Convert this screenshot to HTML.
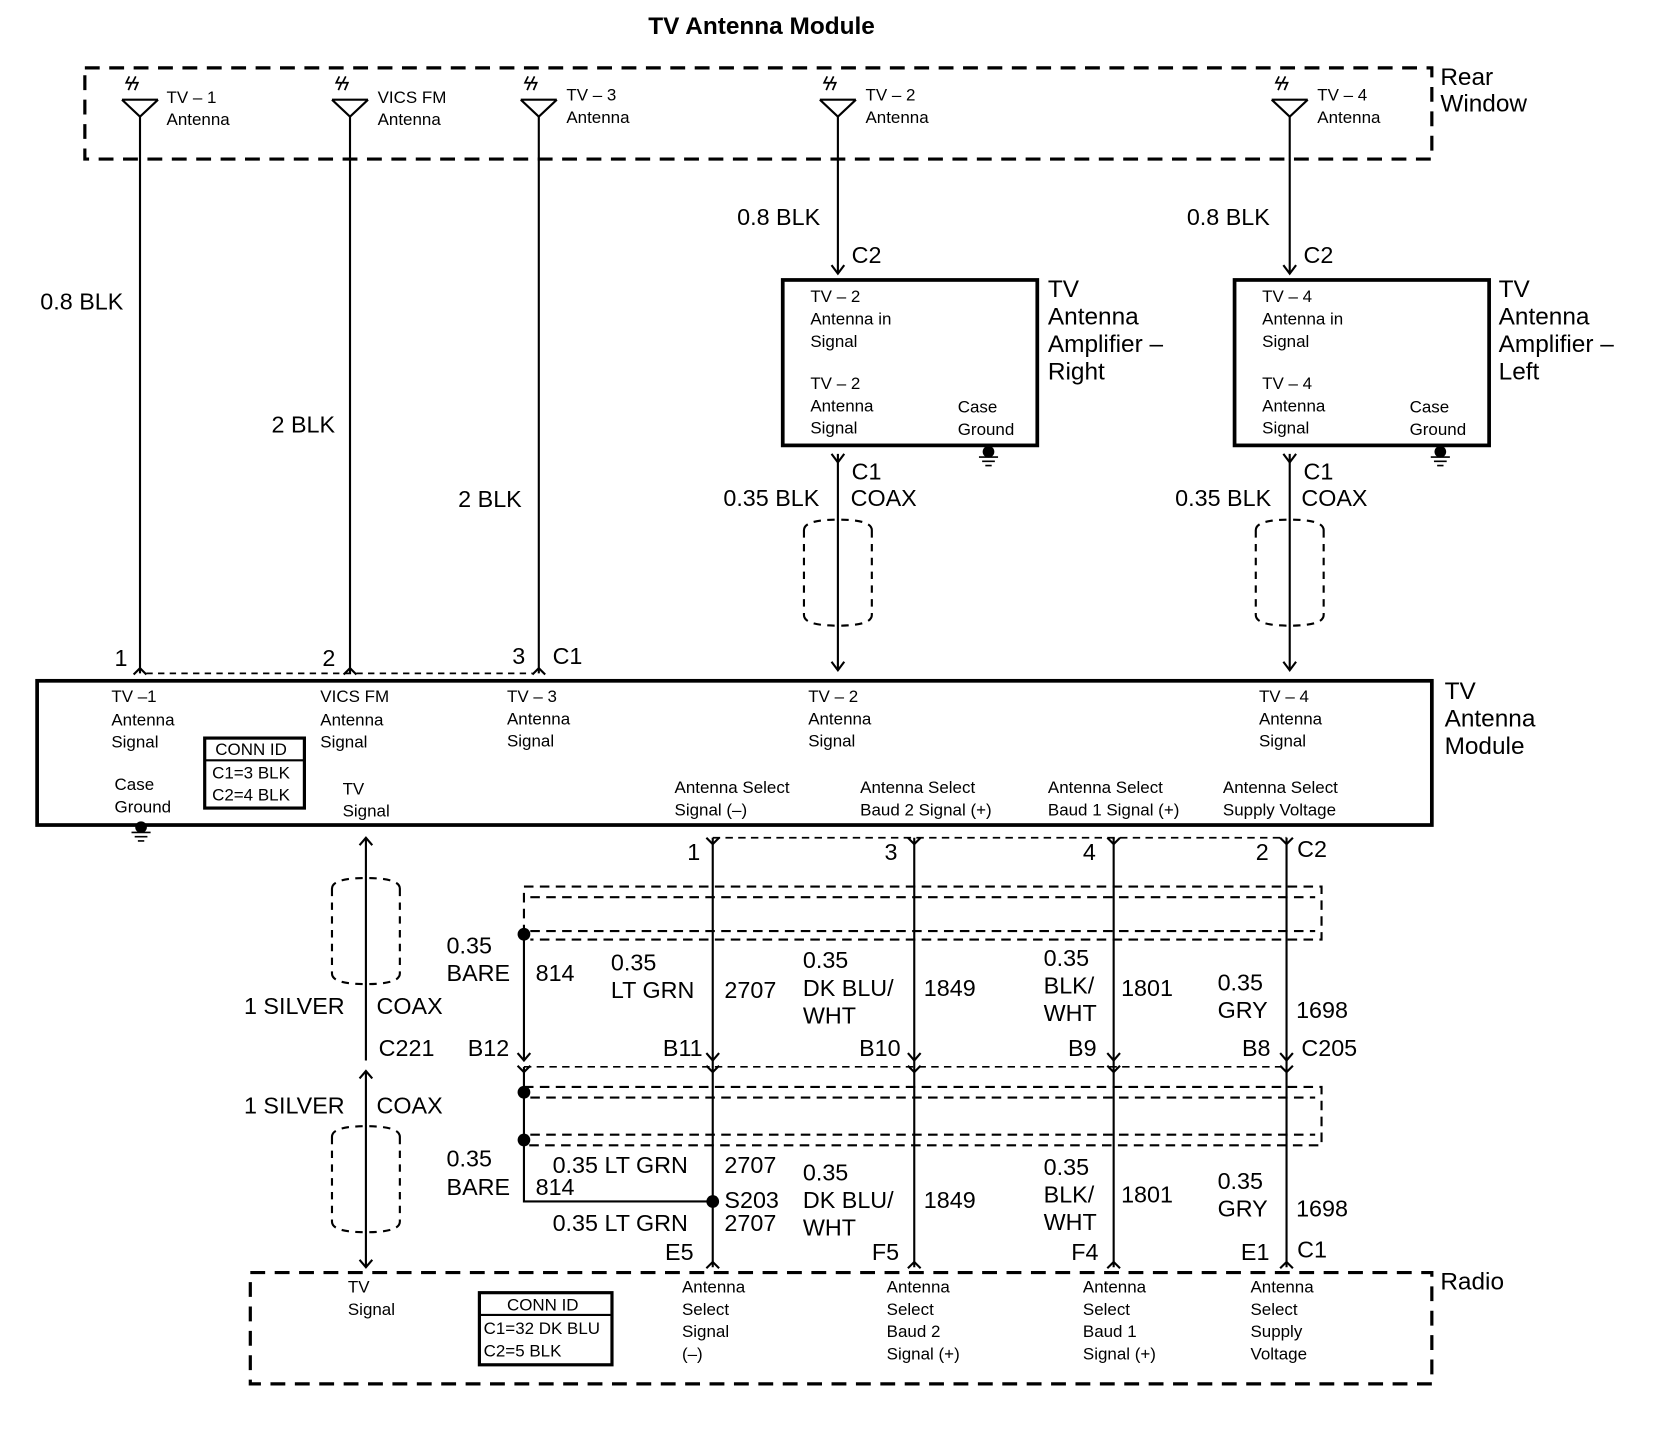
<!DOCTYPE html>
<html><head><meta charset="utf-8"><style>
html,body{margin:0;padding:0;background:#fff}
svg{display:block}
text{font-family:"Liberation Sans",Arial,sans-serif;fill:#000}
.s{font-size:16px}
.m{font-size:22px}
.l{font-size:23px}
</style></head><body>
<svg width="1662" height="1456" viewBox="0 0 1567 1373" preserveAspectRatio="none" xmlns="http://www.w3.org/2000/svg">
<defs>
<g id="ant">
<path d="M-17,94 H17 M-17,94 L0,110 L17,94" stroke="#000" stroke-width="2" fill="none"/>
<path d="M-10,72 l-3,6 l5,0 l-3,7 M-4,72 l-3,6 l5,0 l-3,7" stroke="#000" stroke-width="1.6" fill="none"/>
</g>
<g id="gnd">
<circle cx="0" cy="0" r="5.5" fill="#000"/>
<path d="M-9,5 H9 M-6,9 H6 M-3,13 H3" stroke="#000" stroke-width="1.6"/>
</g>
<g id="cyl">
<path d="M0,10 V90 M64,10 V90 M0,10 Q0,0 32,0 Q64,0 64,10 M0,90 Q0,100 32,100 Q64,100 64,90" stroke="#000" stroke-width="2" stroke-dasharray="7,6" fill="none"/>
</g>
</defs>
<g stroke="#000" fill="none">
<rect x="80" y="64" width="1270" height="86" stroke-width="3" stroke-dasharray="14,9"/>
<rect x="35" y="642" width="1315" height="136" stroke-width="3.5"/>
<rect x="738" y="264" width="240" height="156" stroke-width="3.5"/>
<rect x="1164" y="264" width="240" height="156" stroke-width="3.5"/>
<rect x="236" y="1200" width="1114" height="105" stroke-width="3" stroke-dasharray="14,9"/>
<rect x="193" y="696" width="94" height="66" stroke-width="3"/>
<rect x="452" y="1219" width="125" height="68" stroke-width="3"/>
<path d="M193,717 H287 M452,1240 H577" stroke-width="2"/>
<g stroke-width="2">
<path d="M132,110 V635 M330,110 V635 M508,110 V635"/>
<path d="M790,110 V258 M790,428 V632 M1216,110 V258 M1216,428 V632"/>
<path d="M126,636 L132,630 L138,636 M324,636 L330,630 L336,636 M502,636 L508,630 L514,636"/>
<path d="M784,250 L790,258 L796,250 M784,624 L790,632 L796,624 M784,428 L790,436 L796,428"/>
<path d="M1210,250 L1216,258 L1222,250 M1210,624 L1216,632 L1222,624 M1210,428 L1216,436 L1222,428"/>
</g>
<path d="M138,635 H502" stroke-width="1.6" stroke-dasharray="6,5"/>
<g stroke-width="2">
<path d="M345,790 V1000 M345,1010 V1195"/>
<path d="M339,797 L345,790 L351,797 M339,1017 L345,1010 L351,1017 M339,1188 L345,1195 L351,1188"/>
<path d="M672,790 V1195 M862,790 V1195 M1050,790 V1195 M1213,790 V1195"/>
<path d="M494,881 V1000 M494,1006 V1133 H672"/>
</g>
<path d="M672,790 H1213" stroke-width="1.6" stroke-dasharray="7,5"/>
<path d="M494,1006 H1213" stroke-width="1.6" stroke-dasharray="7,5"/>
<g stroke-width="2">
<path d="M666,790 L672,796 L678,790 M856,790 L862,796 L868,790 M1044,790 L1050,796 L1056,790 M1207,790 L1213,796 L1219,790"/>
<path d="M488,993 L494,1000 L500,993 M666,993 L672,1000 L678,993 M856,993 L862,1000 L868,993 M1044,993 L1050,1000 L1056,993 M1207,993 L1213,1000 L1219,993"/>
<path d="M488,1005 L494,1011 L500,1005 M666,1005 L672,1011 L678,1005 M856,1005 L862,1011 L868,1005 M1044,1005 L1050,1011 L1056,1005 M1207,1005 L1213,1011 L1219,1005"/>
<path d="M666,1196 L672,1190 L678,1196 M856,1196 L862,1190 L868,1196 M1044,1196 L1050,1190 L1056,1196 M1207,1196 L1213,1190 L1219,1196"/>
</g>
<g stroke-width="2" stroke-dasharray="9,6">
<path d="M494,881 V836 H1246 V886 H500"/>
<path d="M500,846 H1240 M500,878 H1240"/>
<path d="M494,1025 H1246 V1080 H494"/>
<path d="M500,1035 H1240 M500,1070 H1240"/>
</g>
</g>
<use href="#cyl" x="758" y="490"/>
<use href="#cyl" x="1184" y="490"/>
<use href="#cyl" x="313" y="828"/>
<use href="#cyl" x="313" y="1062"/>
<use href="#ant" x="132" y="0"/>
<use href="#ant" x="330" y="0"/>
<use href="#ant" x="508" y="0"/>
<use href="#ant" x="790" y="0"/>
<use href="#ant" x="1216" y="0"/>
<use href="#gnd" x="932" y="426"/>
<use href="#gnd" x="1358" y="426"/>
<use href="#gnd" x="133" y="780"/>
<circle cx="494" cy="881" r="6" fill="#000"/>
<circle cx="494" cy="1030" r="6" fill="#000"/>
<circle cx="494" cy="1075" r="6" fill="#000"/>
<circle cx="672" cy="1133" r="6" fill="#000"/>

<text x="718" y="32" text-anchor="middle" style="font-size:23px;font-weight:bold">TV Antenna Module</text>
<text class="l" x="1358" y="80">Rear</text><text class="l" x="1358" y="105">Window</text>
<g class="s">
<text x="157" y="97">TV – 1</text><text x="157" y="118">Antenna</text>
<text x="356" y="97">VICS FM</text><text x="356" y="118">Antenna</text>
<text x="534" y="95">TV – 3</text><text x="534" y="116">Antenna</text>
<text x="816" y="95">TV – 2</text><text x="816" y="116">Antenna</text>
<text x="1242" y="95">TV – 4</text><text x="1242" y="116">Antenna</text>
<text x="764" y="285">TV – 2</text><text x="764" y="306">Antenna in</text><text x="764" y="327">Signal</text>
<text x="764" y="367">TV – 2</text><text x="764" y="388">Antenna</text><text x="764" y="409">Signal</text>
<text x="903" y="389">Case</text><text x="903" y="410">Ground</text>
<text x="1190" y="285">TV – 4</text><text x="1190" y="306">Antenna in</text><text x="1190" y="327">Signal</text>
<text x="1190" y="367">TV – 4</text><text x="1190" y="388">Antenna</text><text x="1190" y="409">Signal</text>
<text x="1329" y="389">Case</text><text x="1329" y="410">Ground</text>
<text x="105" y="662">TV –1</text><text x="105" y="684">Antenna</text><text x="105" y="705">Signal</text>
<text x="302" y="662">VICS FM</text><text x="302" y="684">Antenna</text><text x="302" y="705">Signal</text>
<text x="478" y="662">TV – 3</text><text x="478" y="683">Antenna</text><text x="478" y="704">Signal</text>
<text x="762" y="662">TV – 2</text><text x="762" y="683">Antenna</text><text x="762" y="704">Signal</text>
<text x="1187" y="662">TV – 4</text><text x="1187" y="683">Antenna</text><text x="1187" y="704">Signal</text>
<text x="108" y="745">Case</text><text x="108" y="766">Ground</text>
<text x="323" y="749">TV</text><text x="323" y="770">Signal</text>
<text x="636" y="748">Antenna Select</text><text x="636" y="769">Signal (–)</text>
<text x="811" y="748">Antenna Select</text><text x="811" y="769">Baud 2 Signal (+)</text>
<text x="988" y="748">Antenna Select</text><text x="988" y="769">Baud 1 Signal (+)</text>
<text x="1153" y="748">Antenna Select</text><text x="1153" y="769">Supply Voltage</text>
<text x="203" y="712">CONN ID</text><text x="200" y="734">C1=3 BLK</text><text x="200" y="755">C2=4 BLK</text>
<text x="478" y="1236">CONN ID</text><text x="456" y="1258">C1=32 DK BLU</text><text x="456" y="1279">C2=5 BLK</text>
<text x="328" y="1219">TV</text><text x="328" y="1240">Signal</text>
<text x="643" y="1219">Antenna</text><text x="643" y="1240">Select</text><text x="643" y="1261">Signal</text><text x="643" y="1282">(–)</text>
<text x="836" y="1219">Antenna</text><text x="836" y="1240">Select</text><text x="836" y="1261">Baud 2</text><text x="836" y="1282">Signal (+)</text>
<text x="1021" y="1219">Antenna</text><text x="1021" y="1240">Select</text><text x="1021" y="1261">Baud 1</text><text x="1021" y="1282">Signal (+)</text>
<text x="1179" y="1219">Antenna</text><text x="1179" y="1240">Select</text><text x="1179" y="1261">Supply</text><text x="1179" y="1282">Voltage</text>
</g>
<g class="l">
<text x="988" y="280">TV</text><text x="988" y="306">Antenna</text><text x="988" y="332">Amplifier –</text><text x="988" y="358">Right</text>
<text x="1413" y="280">TV</text><text x="1413" y="306">Antenna</text><text x="1413" y="332">Amplifier –</text><text x="1413" y="358">Left</text>
<text x="1362" y="659">TV</text><text x="1362" y="685">Antenna</text><text x="1362" y="711">Module</text>
<text x="1358" y="1216">Radio</text>
</g>
<g class="m">
<text x="38" y="292">0.8 BLK</text>
<text x="256" y="408">2 BLK</text>
<text x="432" y="478">2 BLK</text>
<text x="695" y="212">0.8 BLK</text><text x="803" y="248">C2</text>
<text x="1119" y="212">0.8 BLK</text><text x="1229" y="248">C2</text>
<text x="803" y="452">C1</text><text x="682" y="477">0.35 BLK</text><text x="802" y="477">COAX</text>
<text x="1229" y="452">C1</text><text x="1108" y="477">0.35 BLK</text><text x="1227" y="477">COAX</text>
<text x="108" y="628">1</text><text x="304" y="628">2</text><text x="483" y="626">3</text><text x="521" y="626">C1</text>
<text x="648" y="811">1</text><text x="834" y="811">3</text><text x="1021" y="811">4</text><text x="1184" y="811">2</text><text x="1223" y="808">C2</text>
<text x="421" y="899">0.35</text><text x="421" y="925">BARE</text><text x="505" y="925">814</text>
<text x="576" y="915">0.35</text><text x="576" y="941">LT GRN</text><text x="683" y="941">2707</text>
<text x="757" y="913">0.35</text><text x="757" y="939">DK BLU/</text><text x="757" y="965">WHT</text><text x="871" y="939">1849</text>
<text x="984" y="911">0.35</text><text x="984" y="937">BLK/</text><text x="984" y="963">WHT</text><text x="1057" y="939">1801</text>
<text x="1148" y="934">0.35</text><text x="1148" y="960">GRY</text><text x="1222" y="960">1698</text>
<text x="230" y="956">1 SILVER</text><text x="355" y="956">COAX</text>
<text x="357" y="996">C221</text><text x="441" y="996">B12</text><text x="625" y="996">B11</text>
<text x="810" y="996">B10</text><text x="1007" y="996">B9</text><text x="1171" y="996">B8</text><text x="1227" y="996">C205</text>
<text x="230" y="1050">1 SILVER</text><text x="355" y="1050">COAX</text>
<text x="421" y="1100">0.35</text><text x="421" y="1127">BARE</text><text x="505" y="1127">814</text>
<text x="521" y="1106">0.35 LT GRN</text><text x="683" y="1106">2707</text>
<text x="683" y="1139">S203</text>
<text x="521" y="1161">0.35 LT GRN</text><text x="683" y="1161">2707</text>
<text x="757" y="1113">0.35</text><text x="757" y="1139">DK BLU/</text><text x="757" y="1165">WHT</text><text x="871" y="1139">1849</text>
<text x="984" y="1108">0.35</text><text x="984" y="1134">BLK/</text><text x="984" y="1160">WHT</text><text x="1057" y="1134">1801</text>
<text x="1148" y="1121">0.35</text><text x="1148" y="1147">GRY</text><text x="1222" y="1147">1698</text>
<text x="627" y="1188">E5</text><text x="822" y="1188">F5</text><text x="1010" y="1188">F4</text><text x="1170" y="1188">E1</text><text x="1223" y="1186">C1</text>
</g>
</svg>
</body></html>
